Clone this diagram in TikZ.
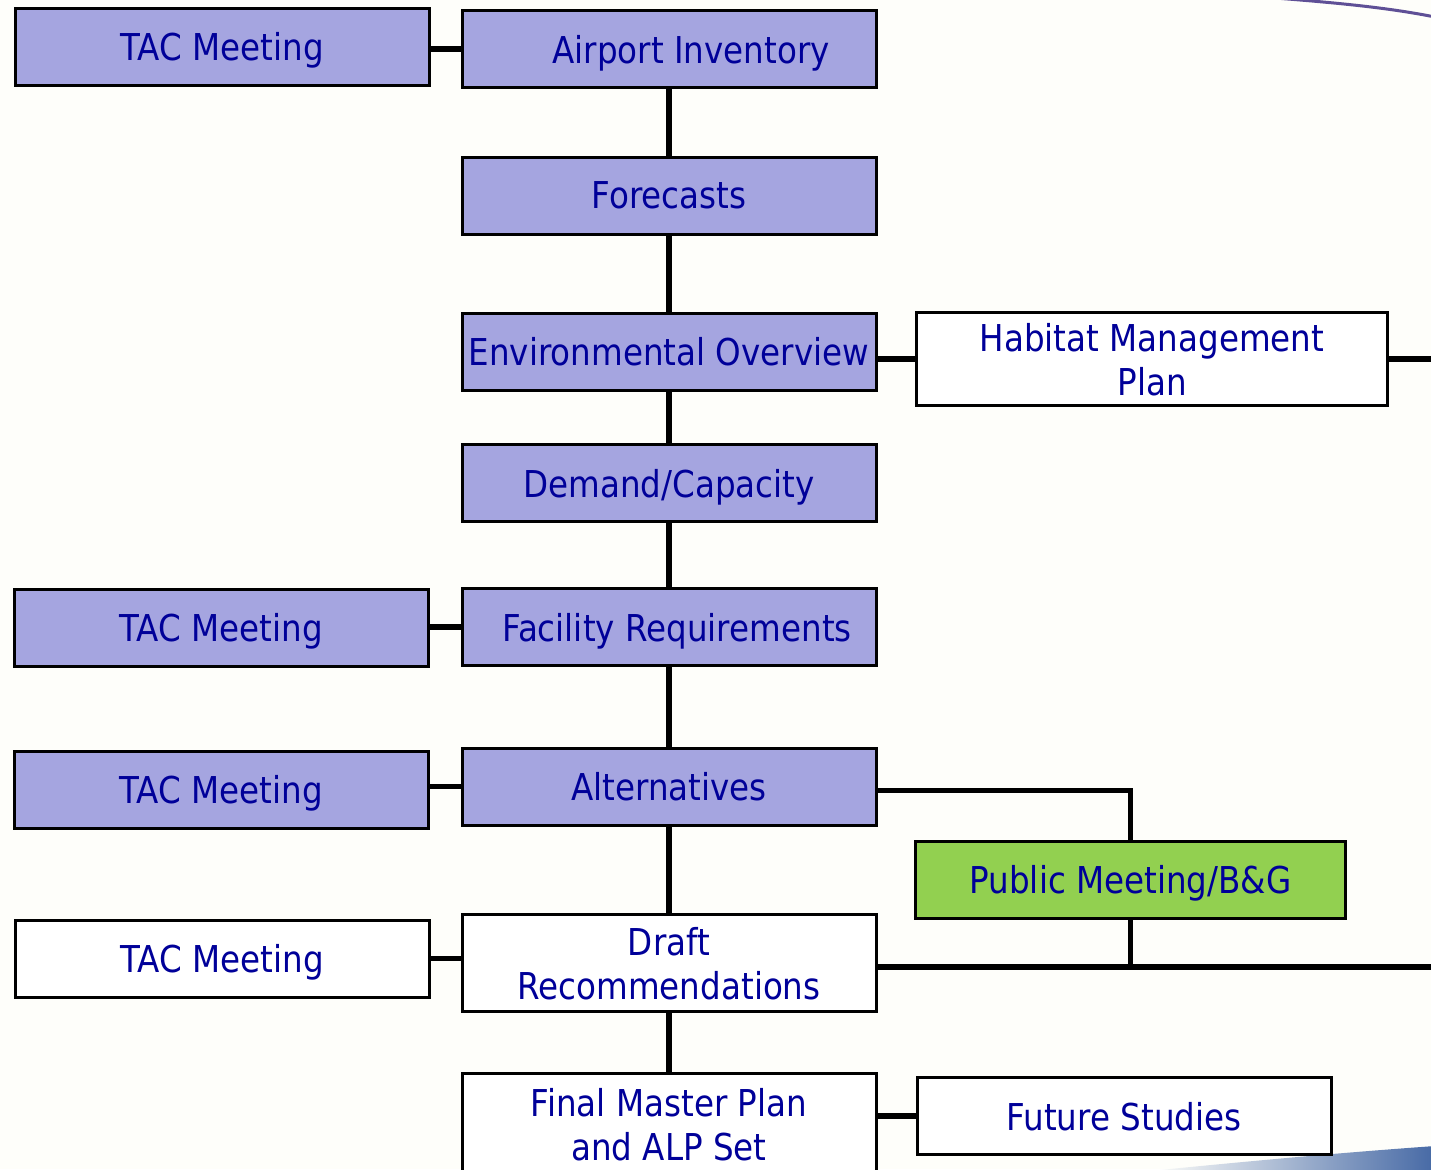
\documentclass[tikz,border=0pt]{standalone}
\usepackage{fontspec}
\setmainfont{DejaVu Sans}[FakeStretch=0.88]
\begin{document}
\begin{tikzpicture}[x=0.5pt,y=-0.5pt]
        % Colors
        \definecolor{taskcolor}{RGB}{165,165,224}
        \definecolor{publiccolor}{RGB}{146,208,80}
        \definecolor{labelcolor}{RGB}{0,0,153}
        \definecolor{papercolor}{RGB}{254,254,250}
        \definecolor{swooshcolor}{RGB}{70,105,165}
        % Styles
        \tikzstyle{task}=[draw,line width=1.5pt,fill=taskcolor,text=labelcolor,minimum width=207pt,minimum height=38.5pt,inner sep=0pt,text depth=0pt,align=center,font=\fontsize{18.5}{22}\selectfont]
        \tikzstyle{side task}=[task,fill=white]
        \tikzstyle{link}=[line width=2.8pt]
        %The graphic
        \fill[papercolor] (0,0) rectangle (1431,1169);
        \useasboundingbox (0,0) rectangle (1431,1169);
        \draw[line width=1.5pt,color={rgb,255:red,95;green,80;blue,150}] (1275,-2) .. controls (1340,3) and (1390,8) .. (1435,17);
        \shade[left color=papercolor,right color=swooshcolor] (1150,1171) .. controls (1260,1160) and (1350,1152) .. (1435,1146) -- (1435,1171) -- cycle;
        % Main column
        \node[task] (air) at (669,49) {\hspace*{22pt}Airport Inventory};
        \node[task] (fore) at (669,195.5) {Forecasts};
        \node[task] (env) at (669,351.5) {Environmental Overview};
        \node[task] (dem) at (669,483) {Demand/Capacity};
        \node[task] (fac) at (669,627) {\hspace*{8pt}Facility Requirements};
        \node[task] (alt) at (669,786.5) {Alternatives};
        \node[side task,minimum height=48.5pt] (draft) at (669,963) {Draft\\Recommendations};
        \node[side task,minimum height=50.5pt] (final) at (669,1124) {Final Master Plan\\and ALP Set};
        % Meetings
        \node[task] (tac1) at (222,46.5) {TAC Meeting};
        \node[task] (tac2) at (221,627.5) {TAC Meeting};
        \node[task] (tac3) at (221,789.5) {TAC Meeting};
        \node[side task] (tac4) at (222,958.5) {TAC Meeting};
        % Right side
        \node[side task,minimum width=235.5pt,minimum height=46.5pt] (hab) at (1152,359) {Habitat Management\\Plan};
        \node[task,fill=publiccolor,minimum width=215pt] (pub) at (1130.5,879.5) {Public Meeting/B\&G};
        \node[side task] (fut) at (1124,1116) {Future Studies};
        \coordinate (hab end) at (1435,359);
        \coordinate (draft end) at (1435,967);
        % Links
        \draw[link] (tac1.east |- air) -- (air.west);
        \draw[link] (air) -- (fore);
        \draw[link] (fore) -- (env);
        \draw[link] (env) -- (dem);
        \draw[link] (dem) -- (fac);
        \draw[link] (fac) -- (alt);
        \draw[link] (alt) -- (draft);
        \draw[link] (draft) -- (final);
        \draw[link] (tac2.east |- fac) -- (fac.west);
        \draw[link] (tac3.east |- alt) -- (alt.west);
        \draw[link] (tac4) -- (tac4 -| draft.west);
        \draw[link] (env.east |- hab) -- (hab.west);
        \draw[link] (hab.east) -- (hab end);
        \draw[link] ([yshift=-2pt]alt.east) -| (pub.north);
        \draw[link] (pub.south) -- (pub.south |- draft end);
        \draw[link] (draft.east |- draft end) -- (draft end);
        \draw[link] (final.east |- fut) -- (fut.west);
\end{tikzpicture}
\end{document}
